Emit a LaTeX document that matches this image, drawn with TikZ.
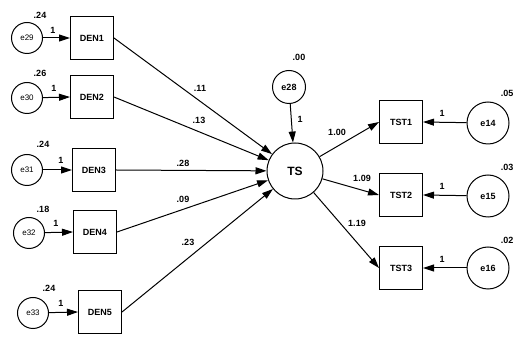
\documentclass[tikz,border=0pt]{standalone}
\usepackage{fontspec}
\setmainfont{Liberation Sans}
\usetikzlibrary{arrows.meta}

\begin{document}
\begin{tikzpicture}[x=1pt, y=-1pt, line width=1pt,
	>={Triangle[length=11pt, width=7pt]},
	every node/.style={font=\bfseries\fontsize{9}{10}\selectfont},
	obs/.style={draw, minimum size=43pt, inner sep=0pt},
	err/.style={draw, circle, minimum size=31pt, inner sep=0pt},
	errr/.style={draw, circle, minimum size=42pt, inner sep=0pt},
	lat/.style={draw, circle, minimum size=56pt, inner sep=0pt, font=\bfseries\fontsize{12}{14}\selectfont},
	lbl/.style={inner sep=0pt}]
	\useasboundingbox (0,0) rectangle (522,344);
	% latent
	\node[lat] (ts) at (295,171) {TS};
	\node[err, minimum size=33pt] (e28) at (289,87) {e28};
	\node[lbl] (v28) at (299,57) {.00};
	\draw[->] (e28) -- (ts);
	\node[lbl] (w28) at (300,119) {1};
	% indicators on the left
	\node[obs] (den1) at (92,38) {DEN1};
	\node[obs] (den2) at (92,97) {DEN2};
	\node[obs] (den3) at (94,170) {DEN3};
	\node[obs] (den4) at (95,232) {DEN4};
	\node[obs] (den5) at (100,312) {DEN5};
	\node[err, font=\fontsize{8}{9}\selectfont] (e29) at (27,38) {e29};
	\node[err, font=\fontsize{8}{9}\selectfont] (e30) at (27,98) {e30};
	\node[err, font=\fontsize{8}{9}\selectfont] (e31) at (27,170) {e31};
	\node[err, font=\fontsize{8}{9}\selectfont] (e32) at (29,233) {e32};
	\node[err, font=\fontsize{8}{9}\selectfont] (e33) at (33,313) {e33};
	\node[lbl] (v29) at (40,15) {.24};
	\node[lbl] (v30) at (40,73) {.26};
	\node[lbl] (v31) at (43,144) {.24};
	\node[lbl] (v32) at (43,209) {.18};
	\node[lbl] (v33) at (49,288) {.24};
	\draw[->] (e29) -- (den1.west);
	\draw[->] (e30) -- (den2.west);
	\draw[->] (e31) -- (den3.west);
	\draw[->] (e32) -- (den4.west);
	\draw[->] (e33) -- (den5.west);
	\node[lbl] (w29) at (53,30) {1};
	\node[lbl] (w30) at (54,88) {1};
	\node[lbl] (w31) at (61,160) {1};
	\node[lbl] (w32) at (56,223) {1};
	\node[lbl] (w33) at (61,303) {1};
	\draw[->] (den1.east) -- (ts);
	\draw[->] (den2.east) -- (ts);
	\draw[->] (den3.east) -- (ts);
	\draw[->] (den4.east) -- (ts);
	\draw[->] (den5.east) -- (ts);
	\node[lbl] (p1) at (200,88) {.11};
	\node[lbl] (p2) at (199,120) {.13};
	\node[lbl] (p3) at (183,163) {.28};
	\node[lbl] (p4) at (183,199) {.09};
	\node[lbl] (p5) at (188,242) {.23};
	% indicators on the right
	\node[obs] (tst1) at (401,122) {TST1};
	\node[obs] (tst2) at (401,195) {TST2};
	\node[obs] (tst3) at (401,268) {TST3};
	\node[errr] (e14) at (488,123) {e14};
	\node[errr] (e15) at (488,196) {e15};
	\node[errr] (e16) at (488,268) {e16};
	\node[lbl] (v14) at (507,93) {.05};
	\node[lbl] (v15) at (507,167) {.03};
	\node[lbl] (v16) at (507,240) {.02};
	\draw[->] (e14) -- (tst1.east);
	\draw[->] (e15) -- (tst2.east);
	\draw[->] (e16) -- (tst3.east);
	\node[lbl] (w14) at (442,113) {1};
	\node[lbl] (w15) at (442,186) {1};
	\node[lbl] (w16) at (442,259) {1};
	\draw[->] (ts) -- (tst1.west);
	\draw[->] (ts) -- (tst2.west);
	\draw[->] (ts) -- (tst3.west);
	\node[lbl] (q1) at (337,132) {1.00};
	\node[lbl] (q2) at (362,178) {1.09};
	\node[lbl] (q3) at (357,223) {1.19};
\end{tikzpicture}
\end{document}
